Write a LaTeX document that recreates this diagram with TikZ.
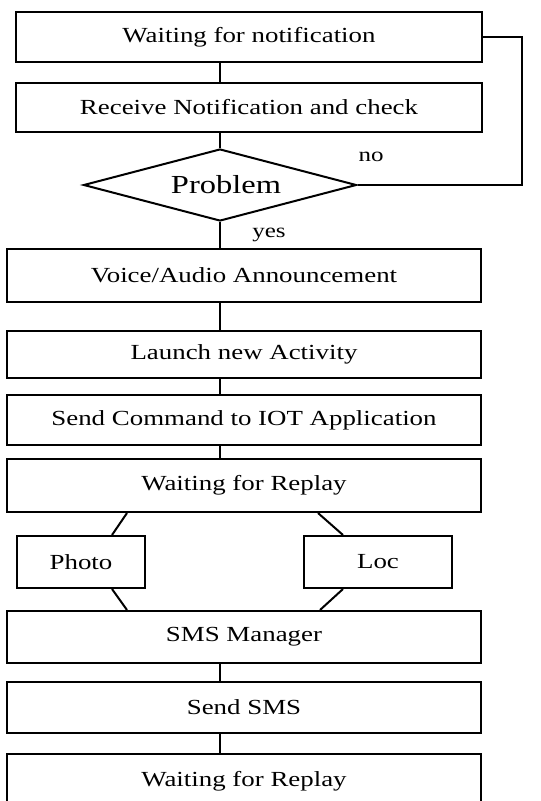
\documentclass[tikz,border=0pt]{standalone}
\usepackage{fontspec}
\setmainfont[FakeStretch=1.25]{Liberation Serif}
\usetikzlibrary{shapes.geometric}
\begin{document}
\begin{tikzpicture}[x=1pt,y=1pt,
  stepbox/.style={draw=black, line width=2pt, rectangle, inner sep=0pt,
    font=\fontsize{21.5}{24}\selectfont, text=black},
  conn/.style={draw=black, line width=2pt},
  lbl/.style={font=\fontsize{20}{22}\selectfont, inner sep=0pt, text=black}]
\useasboundingbox (0,0) rectangle (541,-801);
\clip (0,0) rectangle (541,-801);
\fill[white] (0,0) rectangle (541,-801);
% upper boxes
\node[stepbox, minimum width=466pt, minimum height=50pt] (b1) at (249,-37) {Waiting for notification};
\node[stepbox, minimum width=466pt, minimum height=49pt] (b2) at (249,-107.5) {Receive Notification and check};
\node[draw=black, line width=2pt, diamond, aspect=3.79, minimum width=273pt, minimum height=72pt, inner sep=0pt,
  font=\fontsize{26}{28}\selectfont, text=black] (dia) at (220,-185) {\raisebox{-3pt}{\hspace{12pt}Problem}};
% lower boxes
\node[stepbox, minimum width=474pt, minimum height=53pt] (b3) at (244,-275.5) {Voice/Audio Announcement};
\node[stepbox, minimum width=474pt, minimum height=47pt] (b4) at (244,-354.5) {Launch new Activity};
\node[stepbox, minimum width=474pt, minimum height=50pt] (b5) at (244,-420) {Send Command to IOT Application};
\node[stepbox, minimum width=474pt, minimum height=53pt] (b6) at (244,-485.5) {Waiting for Replay};
\node[stepbox, minimum width=128pt, minimum height=52pt] (ph) at (81,-562) {Photo};
\node[stepbox, minimum width=148pt, minimum height=52pt] (loc) at (378,-562) {Loc};
\node[stepbox, minimum width=474pt, minimum height=52pt] (b7) at (244,-637) {SMS Manager};
\node[stepbox, minimum width=474pt, minimum height=51pt] (b8) at (244,-707.5) {Send SMS};
\node[stepbox, minimum width=474pt, minimum height=54pt] (b9) at (244,-781) {Waiting for Replay};
% axis coordinates
\coordinate (ax) at (220,0);
\coordinate (fb) at (522,0);
% connectors
\draw[conn] (b1.south -| ax) -- (b2.north -| ax);
\draw[conn] (b2.south -| ax) -- (dia.north);
\draw[conn] (dia.south) -- (b3.north -| dia.south);
\draw[conn] (b3.south -| ax) -- (b4.north -| ax);
\draw[conn] (b4.south -| ax) -- (b5.north -| ax);
\draw[conn] (b5.south -| ax) -- (b6.north -| ax);
\draw[conn, line width=1.5pt] (b1.east) -| (fb |- dia.east) -- (dia.east);
\draw[conn] ([xshift=-117pt]b6.south) -- ([xshift=31pt]ph.north);
\draw[conn] ([xshift=74pt]b6.south) -- ([xshift=-35pt]loc.north);
\draw[conn] ([xshift=31pt]ph.south) -- ([xshift=-117pt]b7.north);
\draw[conn] ([xshift=-35pt]loc.south) -- ([xshift=76pt]b7.north);
\draw[conn] (b7.south -| ax) -- (b8.north -| ax);
\draw[conn] (b8.south -| ax) -- (b9.north -| ax);
% labels
\node[lbl] (no) at (371,-157) {no};
\node[lbl] (yes) at (269,-235) {yes};
\end{tikzpicture}
\end{document}
